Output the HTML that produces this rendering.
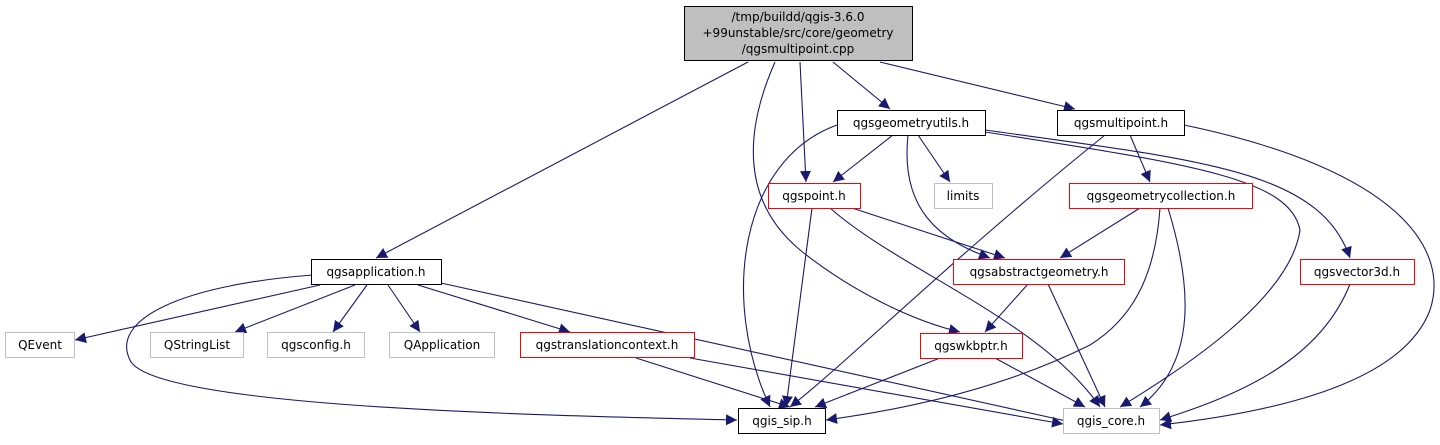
<!DOCTYPE html>
<html><head><meta charset="utf-8"><style>
html,body{margin:0;padding:0;background:#fff;}
svg text{font-family:"DejaVu Sans","Liberation Sans",sans-serif;font-size:12px;text-anchor:middle;fill:#000;}
</style></head><body>
<svg width="1440" height="440" viewBox="0 0 1440 440" xmlns="http://www.w3.org/2000/svg">
<defs>
<marker id="a" viewBox="0 0 10 10" refX="10" refY="5" markerWidth="11" markerHeight="11" markerUnits="userSpaceOnUse" orient="auto">
<path d="M0,0 L10,5 L0,10 z" fill="#191970"/>
</marker>
</defs>
<g fill="none" stroke="#191970" stroke-width="1.1" marker-end="url(#a)">
<path d="M748,62 L376,258"/>
<path d="M775,62 C745,130 740,200 800,250 C850,290 910,320 960,332"/>
<path d="M800,62 L806,182"/>
<path d="M833,62 L890,109"/>
<path d="M880,62 L1075,109"/>
<path d="M320,285 L75,340"/>
<path d="M355,285 L235,332"/>
<path d="M367,285 L333,332"/>
<path d="M388,285 L420,332"/>
<path d="M418,285 L570,332"/>
<path d="M313,275 C180,285 110,320 130,360 C150,405 500,415 737,420"/>
<path d="M441,283 L1080,424"/>
<path d="M636,358 L790,407"/>
<path d="M690,358 L1063,424"/>
<path d="M893,135 L833,182"/>
<path d="M918,135 L950,182"/>
<path d="M908,135 C900,210 940,240 990,258"/>
<path d="M837,125 C740,160 720,300 770,407"/>
<path d="M985,130 C1200,160 1320,170 1350,258"/>
<path d="M985,132 C1200,165 1290,180 1300,230 C1290,300 1180,370 1120,407"/>
<path d="M1130,135 L1150,182"/>
<path d="M1105,135 C950,260 850,360 790,407"/>
<path d="M1184,125 C1400,170 1450,250 1430,310 C1400,390 1250,415 1160,425"/>
<path d="M852,208 L1005,258"/>
<path d="M812,208 L786,407"/>
<path d="M830,208 C900,270 1040,320 1100,407"/>
<path d="M1140,208 L1060,258"/>
<path d="M1160,208 C1155,280 1130,320 1090,345 C1000,390 900,410 826,420"/>
<path d="M1168,208 C1190,280 1200,360 1140,407"/>
<path d="M1028,284 L985,332"/>
<path d="M1048,284 L1105,407"/>
<path d="M1350,284 C1320,360 1240,395 1160,420"/>
<path d="M940,358 L815,407"/>
<path d="M995,358 L1085,407"/>
</g>
<g stroke-width="1">
<rect x="684.5" y="6.5" width="228" height="54" fill="#bfbfbf" stroke="#000"/>
<rect x="311.5" y="259.5" width="130" height="25" fill="#fff" stroke="#000"/>
<rect x="5.5" y="332.5" width="69" height="25" fill="#fff" stroke="#bfbfbf"/>
<rect x="150.5" y="332.5" width="93" height="25" fill="#fff" stroke="#bfbfbf"/>
<rect x="267.5" y="332.5" width="97" height="25" fill="#fff" stroke="#bfbfbf"/>
<rect x="389.5" y="332.5" width="105" height="25" fill="#fff" stroke="#bfbfbf"/>
<rect x="520.5" y="332.5" width="174" height="25" fill="#fff" stroke="#ff0000"/>
<rect x="738.5" y="408.5" width="87" height="25" fill="#fff" stroke="#000"/>
<rect x="1063.5" y="408.5" width="96" height="25" fill="#fff" stroke="#bfbfbf"/>
<rect x="837.5" y="110.5" width="148" height="25" fill="#fff" stroke="#000"/>
<rect x="1057.5" y="110.5" width="127" height="25" fill="#fff" stroke="#000"/>
<rect x="768.5" y="183.5" width="92" height="25" fill="#fff" stroke="#ff0000"/>
<rect x="934.5" y="183.5" width="58" height="25" fill="#fff" stroke="#bfbfbf"/>
<rect x="1069.5" y="183.5" width="183" height="25" fill="#fff" stroke="#ff0000"/>
<rect x="953.5" y="259.5" width="171" height="25" fill="#fff" stroke="#ff0000"/>
<rect x="1300.5" y="259.5" width="114" height="25" fill="#fff" stroke="#ff0000"/>
<rect x="920.5" y="333.5" width="102" height="25" fill="#fff" stroke="#ff0000"/>
</g>
<text x="798" y="21">/tmp/buildd/qgis-3.6.0</text>
<text x="798" y="37">+99unstable/src/core/geometry</text>
<text x="798" y="53">/qgsmultipoint.cpp</text>
<text x="376" y="276">qgsapplication.h</text>
<text x="40" y="349">QEvent</text>
<text x="197" y="349">QStringList</text>
<text x="316" y="349">qgsconfig.h</text>
<text x="442" y="349">QApplication</text>
<text x="607" y="349">qgstranslationcontext.h</text>
<text x="782" y="425">qgis_sip.h</text>
<text x="1111" y="425">qgis_core.h</text>
<text x="911" y="127">qgsgeometryutils.h</text>
<text x="1121" y="127">qgsmultipoint.h</text>
<text x="814" y="200">qgspoint.h</text>
<text x="963" y="200">limits</text>
<text x="1161" y="200">qgsgeometrycollection.h</text>
<text x="1039" y="276">qgsabstractgeometry.h</text>
<text x="1357" y="276">qgsvector3d.h</text>
<text x="971" y="350">qgswkbptr.h</text>
</svg>
</body></html>
